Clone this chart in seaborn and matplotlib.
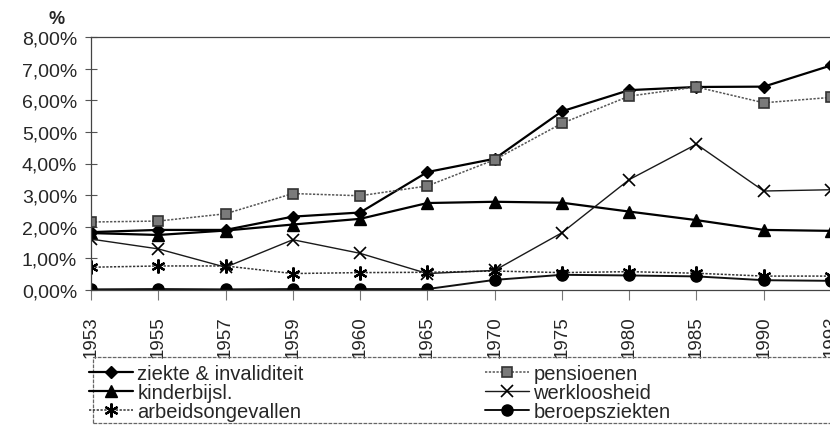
import matplotlib
matplotlib.use('Agg')
import matplotlib.pyplot as plt
from matplotlib.patches import Rectangle
import seaborn as sns
import pandas as pd

# data (% )
years = ['1953', '1955', '1957', '1959', '1960', '1965', '1970', '1975', '1980', '1985', '1990', '1993']
ziekte = [1.83, 1.90, 1.90, 2.32, 2.45, 3.73, 4.15, 5.65, 6.32, 6.42, 6.43, 7.10]
kinderbijsl = [1.80, 1.74, 1.88, 2.07, 2.25, 2.75, 2.79, 2.76, 2.48, 2.21, 1.90, 1.87]
arbeid = [0.72, 0.76, 0.76, 0.52, 0.55, 0.56, 0.60, 0.55, 0.58, 0.53, 0.44, 0.44]
pensioenen = [2.15, 2.18, 2.41, 3.05, 2.98, 3.29, 4.12, 5.27, 6.13, 6.42, 5.92, 6.09]
werkloosheid = [1.61, 1.30, 0.72, 1.59, 1.16, 0.52, 0.62, 1.81, 3.49, 4.61, 3.13, 3.17]
beroeps = [0.02, 0.03, 0.02, 0.03, 0.03, 0.03, 0.32, 0.48, 0.46, 0.43, 0.31, 0.29]
y_ticks = [0, 1, 2, 3, 4, 5, 6, 7, 8]

sns.set_style('white')
plt.rcParams['font.family'] = ['Liberation Sans', 'DejaVu Sans']

W, H = 830, 431
fig = plt.figure(figsize=(W / 100, H / 100), dpi=100)
ax = fig.add_axes([91 / W, 1 - 291 / H, 740 / W, 253 / H])

series = [
    ('ziekte & invaliditeit', ziekte, dict(color='black', lw=1.6, linestyle='-', marker='D', ms=6.5,
                                           mfc='black', mec='black', mew=1)),
    ('kinderbijsl.', kinderbijsl, dict(color='black', lw=1.6, linestyle='-', marker='^', ms=8,
                                       mfc='black', mec='black', mew=1)),
    ('arbeidsongevallen', arbeid, dict(color='#333333', lw=1.1, linestyle=(0, (1.5, 1)), marker=(6, 2, 0),
                                       ms=10, mfc='black', mec='black', mew=1.6)),
    ('pensioenen', pensioenen, dict(color='#555555', lw=1.1, linestyle=(0, (1.5, 1)), marker='s', ms=7.5,
                                    mfc='#7a7a7a', mec='#333333', mew=1.2)),
    ('werkloosheid', werkloosheid, dict(color='#1a1a1a', lw=1.0, linestyle='-', marker='x', ms=8,
                                        mfc='black', mec='black', mew=1.2)),
    ('beroepsziekten', beroeps, dict(color='#111111', lw=1.4, linestyle='-', marker='o', ms=8,
                                     mfc='black', mec='black', mew=1)),
]

handles = []
for name, vals, kw in series:
    df = pd.DataFrame({'jaar': years, 'waarde': vals})
    sns.lineplot(data=df, x='jaar', y='waarde', ax=ax, sort=False, label=name, legend=False, **kw)
    handles.append(ax.get_lines()[-1])

ax.set_xlim(0, len(years) - 1)
ax.set_ylim(0, 8)
ax.set_yticks(y_ticks)
ax.set_yticklabels([f'{v:.2f}%'.replace('.', ',') for v in y_ticks], fontsize=14)
ax.set_xticks(range(len(years)))
ax.set_xticklabels(years, rotation=90, fontsize=13.5)
ax.set_xlabel('')
ax.set_ylabel('')

ax.tick_params(axis='y', direction='inout', length=8, width=0.8, color='#555555', pad=6, left=True)
ax.tick_params(axis='x', direction='out', length=7, width=0.8, color='#777777', pad=11, bottom=True)

for side in ['top', 'left', 'bottom']:
    ax.spines[side].set_visible(True)
    ax.spines[side].set_color('#444444')
    ax.spines[side].set_linewidth(0.9)
    ax.spines[side].set_linestyle((0, (2, 1)))
ax.spines['right'].set_visible(False)

fig.text(57 / W, 1 - 20 / H, '%', fontsize=13, fontweight='bold', ha='center', va='center')

# legend box runs off the right edge in the scan
fig.patches.append(Rectangle((93 / W, 1 - 424 / H), (W + 10 - 93) / W, (424 - 358) / H,
                             transform=fig.transFigure, fill=False, edgecolor='#666666',
                             lw=0.9, linestyle=(0, (3, 1)), clip_on=False))

fig.legend(handles=handles, labels=[s[0] for s in series], loc='upper left',
           bbox_to_anchor=(89 / W, 1 - 365 / H), ncol=2, frameon=False, fontsize=14.5,
           labelspacing=0.0, handlelength=2.2, handletextpad=0.2, columnspacing=9.0,
           borderpad=0, borderaxespad=0)

fig.savefig('out.png', dpi=100, facecolor='white')
